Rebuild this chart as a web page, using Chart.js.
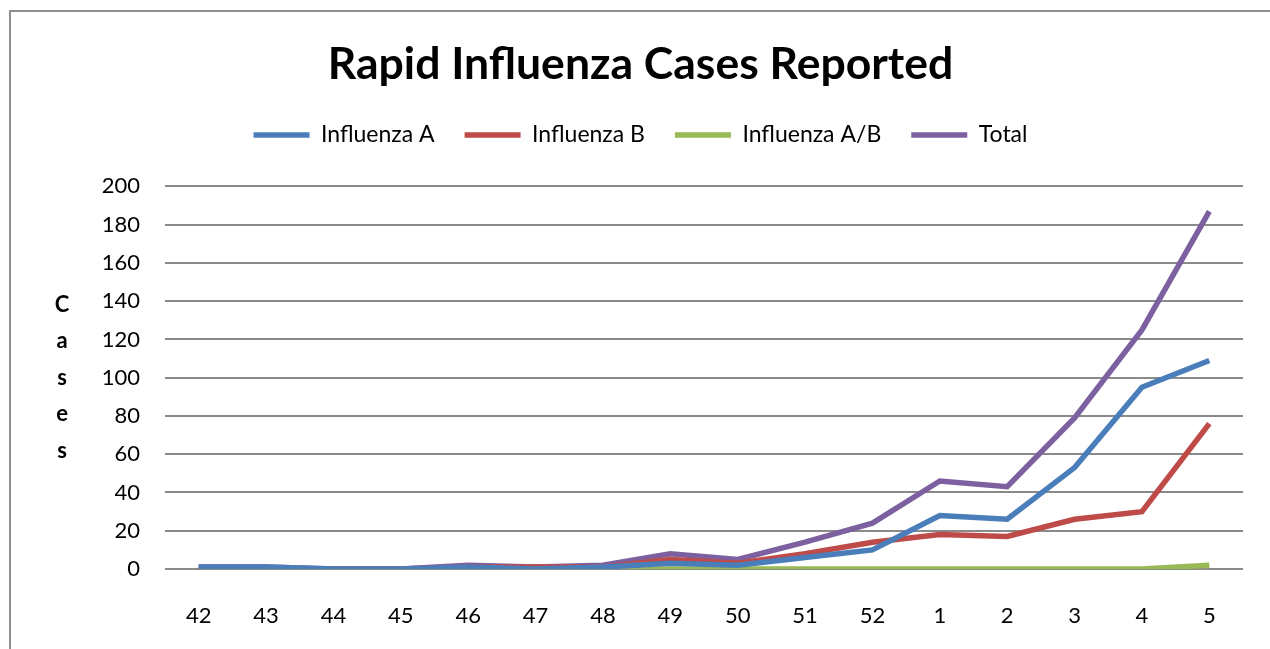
<!DOCTYPE html>
<html>
<head>
<meta charset="utf-8">
<script src="https://cdn.jsdelivr.net/npm/chart.js@4.4.1/dist/chart.umd.min.js"></script>
<style>
  html, body { margin: 0; padding: 0; background: #fff; overflow: hidden; }
  #wrap { position: relative; width: 1270px; height: 649px; }
  #frame { position: absolute; left: 9px; top: 10px; width: 1300px; height: 700px;
           border-left: 2px solid #8e8e8e; border-top: 2px solid #8e8e8e; }
  canvas { position: absolute; left: 0; top: 0; }
</style>
</head>
<body>
<div id="wrap">
  <div id="frame"></div>
  <canvas id="myChart" width="1270" height="649"></canvas>
</div>
<script>
// week numbers (season runs over the new year)
var weeks = ['42','43','44','45','46','47','48','49','50','51','52','1','2','3','4','5'];

var fluA   = [1, 1, 0, 0, 1, 0, 1, 3, 2, 6, 10, 28, 26, 53, 95, 109];
var fluB   = [0, 0, 0, 0, 1, 1, 1, 5, 3, 8, 14, 18, 17, 26, 30, 76];
var fluAB  = [0, 0, 0, 0, 0, 0, 0, 0, 0, 0, 0, 0, 0, 0, 0, 2];
var total  = [1, 1, 0, 0, 2, 1, 2, 8, 5, 14, 24, 46, 43, 79, 125, 187];

var yTicks = [0, 20, 40, 60, 80, 100, 120, 140, 160, 180, 200];

var titleText = 'Rapid Influenza Cases Reported';
var yTitle = 'Cases';

var fontName = 'Lato';

// size the title so it spans about the same width as the original
function fitFont(text, weight, target) {
  var cv = document.createElement('canvas').getContext('2d');
  cv.font = weight + ' 100px ' + fontName;
  var w = cv.measureText(text).width;
  return Math.round(100 * target / w * 10) / 10;
}
var titleSize = fitFont(titleText, 'bold', 625);

// letters of the axis title stacked one under another
var stackedTitle = {
  id: 'stackedTitle',
  afterDraw: function(chart) {
    var ctx = chart.ctx;
    var area = chart.chartArea;
    var mid = (area.top + area.bottom) / 2;
    ctx.save();
    ctx.font = 'bold 22px ' + fontName;
    ctx.fillStyle = '#000';
    ctx.textAlign = 'center';
    ctx.textBaseline = 'middle';
    for (var i = 0; i < yTitle.length; i++) {
      ctx.fillText(yTitle[i], 62, mid + (i - (yTitle.length - 1) / 2) * 36.5);
    }
    ctx.restore();
  }
};

// more room under the legend
var legendGap = {
  id: 'legendGap',
  beforeInit: function(chart) {
    var fit = chart.legend.fit;
    chart.legend.fit = function() {
      fit.bind(chart.legend)();
      this.height += 30;
    };
  }
};

function makeSet(label, values, color) {
  return {
    label: label,
    data: values,
    borderColor: color,
    backgroundColor: color,
    borderWidth: 5.5,
    pointRadius: 0,
    tension: 0,
    fill: false
  };
}

const data = {
  labels: weeks,
  datasets: [
    makeSet('Influenza A', fluA, '#4a7ebb'),
    makeSet('Influenza B', fluB, '#be4b48'),
    makeSet('Influenza A/B', fluAB, '#98b954'),
    makeSet('Total', total, '#7d60a0')
  ]
};

const config = {
  type: 'line',
  data: data,
  plugins: [stackedTitle, legendGap],
  options: {
    responsive: false,
    animation: false,
    layout: { padding: { left: 38, right: 27, top: 0, bottom: 0 } },
    plugins: {
      tooltip: { enabled: false },
      title: {
        display: true,
        text: titleText,
        color: '#000',
        font: { family: fontName, size: titleSize, weight: 'bold' },
        padding: { top: 38, bottom: 2 }
      },
      legend: {
        display: true,
        position: 'top',
        labels: {
          color: '#000',
          font: { family: fontName, size: 23 },
          usePointStyle: true,
          pointStyle: 'line',
          pointStyleWidth: 56,
          boxHeight: 23,
          padding: 30
        }
      }
    },
    scales: {
      x: {
        offset: true,
        grid: { display: false, drawTicks: false },
        border: { display: false },
        ticks: { color: '#000', font: { family: fontName, size: 22 }, padding: 34, maxRotation: 0 },
        afterFit: function(scale) { scale.height = 80; }
      },
      y: {
        min: 0,
        max: 200,
        afterBuildTicks: function(scale) {
          scale.ticks = yTicks.map(function(v) { return { value: v }; });
        },
        grid: { color: '#8a8a8a', lineWidth: 2, drawTicks: false },
        border: { display: false },
        ticks: { color: '#000', font: { family: fontName, size: 22 }, padding: 25 },
        afterFit: function(scale) { scale.width = 127; }
      }
    }
  }
};

var myChart = new Chart(document.getElementById('myChart'), config);
</script>
</body>
</html>
